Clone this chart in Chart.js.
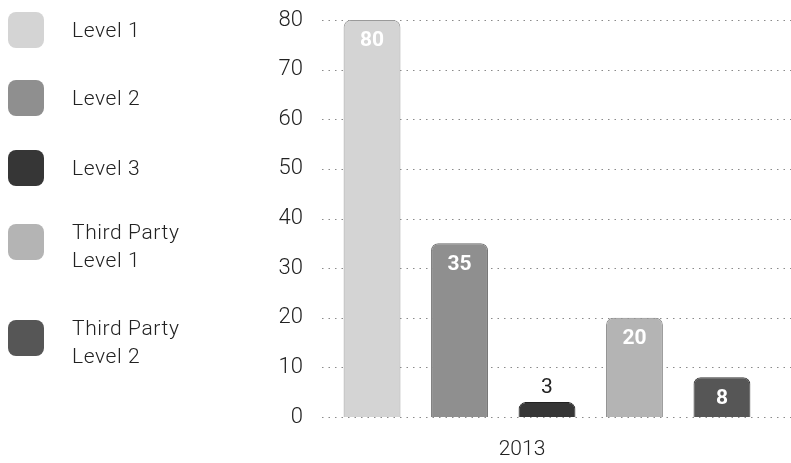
<!DOCTYPE html>
<html>
<head>
<meta charset="utf-8">
<script src="https://cdn.jsdelivr.net/npm/chart.js@4"></script>
<style>
  html, body { margin: 0; padding: 0; background: #fff; }
  #wrap { position: relative; width: 791px; height: 463px; }
  #legend { position: absolute; left: 0; top: 0; font-family: Roboto, sans-serif; font-weight: 300; color: #222; }
  .item { position: absolute; left: 8px; width: 240px; }
  .box { position: absolute; left: 0; top: 0; width: 36px; height: 36px; border-radius: 8px; }
  .txt { position: absolute; left: 64px; font-size: 21px; letter-spacing: 0.6px; line-height: 28px; white-space: nowrap; }
</style>
</head>
<body>
<div id="wrap">
  <canvas id="myChart" width="791" height="463"></canvas>
  <div id="legend"></div>
</div>
<script>
const categories = ["2013"];
const seriesNames = ["Level 1", "Level 2", "Level 3", "Third Party Level 1", "Third Party Level 2"];
const legendLines = [["Level 1"], ["Level 2"], ["Level 3"], ["Third Party", "Level 1"], ["Third Party", "Level 2"]];
const seriesValues = [80, 35, 3, 20, 8];
const yTicks = [0, 10, 20, 30, 40, 50, 60, 70, 80];

const colors = ["#d4d4d4", "#8f8f8f", "#363636", "#b4b4b4", "#565656"];
const borders = ["#9a9a9a", "#6a6a6a", "#222", "#8a8a8a", "#3a3a3a"];
const legendTops = [12, 80, 150, 224, 320];

// legend on the left, html so the names can wrap
const legend = document.getElementById("legend");
legendLines.forEach((lines, i) => {
    const item = document.createElement("div");
    item.className = "item";
    item.style.top = legendTops[i] + "px";
    const box = document.createElement("div");
    box.className = "box";
    box.style.background = colors[i];
    const txt = document.createElement("div");
    txt.className = "txt";
    txt.style.top = (lines.length > 1 ? -6 : 4) + "px";
    txt.innerHTML = lines.join("<br>");
    item.appendChild(box);
    item.appendChild(txt);
    legend.appendChild(item);
});

// dotted grid across to the right edge
const gridPlugin = {
    id: "fullGrid",
    beforeDatasetsDraw(chart) {
        const ctx = chart.ctx;
        const y = chart.scales.y;
        ctx.save();
        ctx.strokeStyle = "#8a8a8a";
        ctx.lineWidth = 1;
        ctx.setLineDash([1.5, 5]);
        yTicks.forEach(v => {
            const py = Math.round(y.getPixelForValue(v)) + 0.5;
            ctx.beginPath();
            ctx.moveTo(chart.chartArea.left, py);
            ctx.lineTo(chart.width, py);
            ctx.stroke();
        });
        ctx.restore();
    }
};

// value labels on the bars
const valuePlugin = {
    id: "values",
    afterDatasetsDraw(chart) {
        const ctx = chart.ctx;
        ctx.save();
        ctx.textAlign = "center";
        ctx.textBaseline = "middle";
        chart.data.datasets.forEach((ds, i) => {
            const bar = chart.getDatasetMeta(i).data[0];
            const h = bar.base - bar.y;
            if (h > 25) {
                ctx.font = "bold 21px Roboto, sans-serif";
                ctx.fillStyle = "#fff";
                ctx.fillText(ds.data[0], bar.x, bar.y + 21);
            } else {
                ctx.font = "21px Roboto, sans-serif";
                ctx.fillStyle = "#222";
                ctx.fillText(ds.data[0], bar.x, bar.y - 14);
            }
        });
        ctx.restore();
    }
};

const ctx = document.getElementById("myChart").getContext("2d");
const myChart = new Chart(ctx, {
    type: "bar",
    data: {
        labels: categories,
        datasets: seriesNames.map((name, i) => ({
            label: name,
            data: [seriesValues[i]],
            backgroundColor: colors[i],
            borderColor: borders[i],
            borderWidth: 1,
            borderSkipped: "start",
            borderRadius: { topLeft: 7, topRight: 7, bottomLeft: 0, bottomRight: 0 },
            barPercentage: 0.65,
            categoryPercentage: 0.972
        }))
    },
    options: {
        responsive: false,
        animation: false,
        layout: { padding: { top: 20, right: 19, left: 0, bottom: 0 } },
        plugins: {
            legend: { display: false },
            tooltip: { enabled: false }
        },
        scales: {
            x: {
                afterFit(scale) { scale.height = 46; },
                grid: { display: false },
                border: { display: false },
                ticks: {
                    color: "#222",
                    font: { family: "Roboto", size: 21, weight: 300 },
                    padding: 12,
                    labelOffset: -25
                }
            },
            y: {
                min: 0,
                max: 80,
                afterFit(scale) {
                    scale.width = 322;
                    scale.paddingTop = 0;
                    scale.paddingBottom = 0;
                },
                afterBuildTicks(scale) { scale.ticks = yTicks.map(v => ({ value: v })); },
                grid: { display: false, drawTicks: false },
                border: { display: false },
                ticks: {
                    color: "#222",
                    font: { family: "Roboto", size: 22, weight: 300 },
                    padding: 19
                }
            }
        }
    },
    plugins: [gridPlugin, valuePlugin]
});
</script>
</body>
</html>
